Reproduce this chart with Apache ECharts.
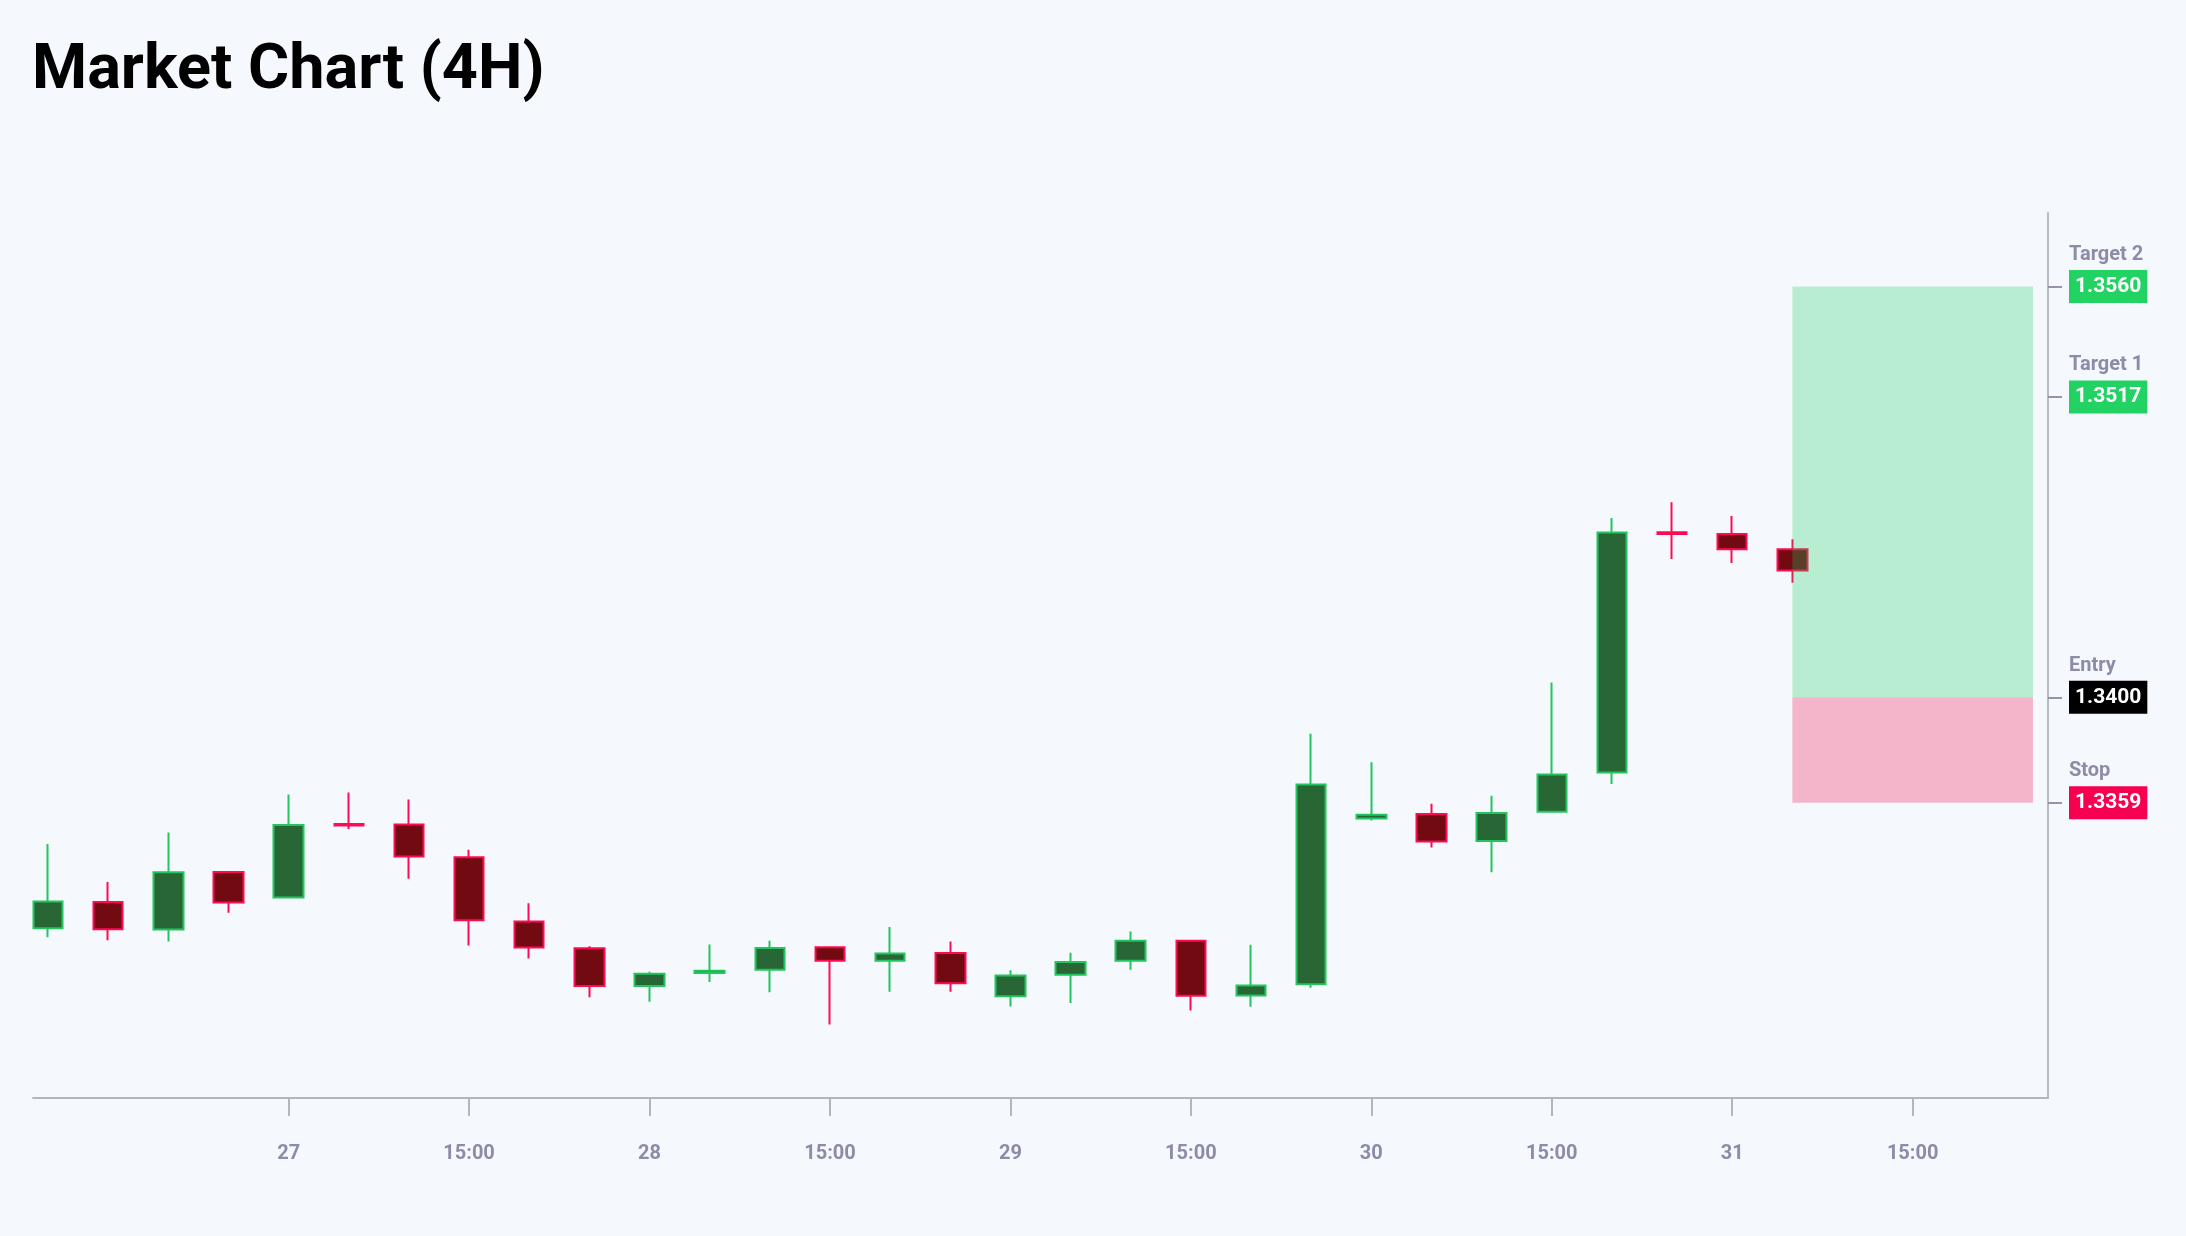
<!DOCTYPE html>
<html>
<head>
    <meta charset="utf-8">
    <title>Market Chart (4H)</title>
    <script src="https://cdn.jsdelivr.net/npm/echarts@6/dist/echarts.min.js"></script>
</head>

<style>
    html, body
    {
        margin: 0;
        padding: 0;
        background-color: #f5f8fd;
    }

    #main
    {
        width: 2186px;
        height: 1236px;
    }
</style>

<body>

    <div id="main"></div>

    <script type="text/javascript">

        // 4H candles, one slot per bar (x = slot index)
        var opens  = [1.33101, 1.33203, 1.33096, 1.33320, 1.33221, 1.33507, 1.33505, 1.33377, 1.33127, 1.33023,
                      1.32876, 1.32927, 1.32939, 1.33027, 1.32974, 1.33005, 1.32836, 1.32920, 1.32974, 1.33052,
                      1.32839, 1.32883, 1.33528, 1.33546, 1.33441, 1.33555, 1.33707, 1.34643, 1.34636, 1.34577];
        var closes = [1.33205, 1.33097, 1.33319, 1.33201, 1.33503, 1.33501, 1.33380, 1.33132, 1.33026, 1.32876,
                      1.32924, 1.32935, 1.33024, 1.32974, 1.33003, 1.32887, 1.32917, 1.32970, 1.33052, 1.32838,
                      1.32878, 1.33661, 1.33543, 1.33439, 1.33550, 1.33700, 1.34642, 1.34636, 1.34577, 1.34494];
        var lows   = [1.33066, 1.33054, 1.33049, 1.33161, 1.33217, 1.33487, 1.33294, 1.33034, 1.32983, 1.32832,
                      1.32815, 1.32892, 1.32852, 1.32726, 1.32854, 1.32854, 1.32796, 1.32810, 1.32939, 1.32781,
                      1.32795, 1.32869, 1.33521, 1.33415, 1.33319, 1.33555, 1.33663, 1.34539, 1.34523, 1.34446];
        var highs  = [1.33429, 1.33281, 1.33474, 1.33324, 1.33622, 1.33630, 1.33602, 1.33407, 1.33198, 1.33031,
                      1.32932, 1.33038, 1.33052, 1.33031, 1.33106, 1.33049, 1.32937, 1.33006, 1.33088, 1.33055,
                      1.33037, 1.33858, 1.33747, 1.33586, 1.33617, 1.34058, 1.34698, 1.34760, 1.34706, 1.34616];

        // x axis ticks (slot index) and their labels
        var tickAt   = [4, 7, 10, 13, 16, 19, 22, 25, 28, 31];
        var tickText = ['27', '15:00', '28', '15:00', '29', '15:00', '30', '15:00', '31', '15:00'];

        // trade levels on the price axis
        var levelValues = [1.3560, 1.3517, 1.3400, 1.3359];
        var levelNames  = ['Target 2', 'Target 1', 'Entry', 'Stop'];
        var levelKinds  = ['tp', 'tp', 'entry', 'stop'];

        // projection zone runs from the last bar to slot 33
        var zoneStart = 29;
        var zoneEnd = 33;

        var candles = [];
        for (var i = 0; i < opens.length; i++) {
            candles.push([i, opens[i], closes[i], lows[i], highs[i]]);
        }

        function boxStyle(bg) {
            return {
                fontFamily: 'Roboto',
                fontSize: 21,
                fontWeight: 'bold',
                color: '#ffffff',
                backgroundColor: bg,
                lineHeight: 21,
                padding: [6, 6, 6, 6],
                align: 'left'
            };
        }

        var myChart = echarts.init(document.getElementById('main'));

        var option = {
            backgroundColor: '#f5f8fd',
            animation: false,
            title: {
                text: 'Market Chart (4H)',
                left: 27,
                top: 36,
                textStyle: {
                    fontFamily: 'Roboto',
                    fontSize: 63,
                    fontWeight: 'bold',
                    color: '#000000'
                }
            },
            grid: {
                left: 33,
                right: 138,
                top: 213,
                bottom: 138,
                outerBoundsMode: 'none'
            },
            xAxis: {
                type: 'value',
                min: -0.25,
                max: 33.25,
                splitLine: { show: false },
                axisLine: {
                    show: true,
                    onZero: false,
                    lineStyle: { color: '#b4b5bf', width: 2 }
                },
                axisTick: {
                    show: true,
                    customValues: tickAt,
                    length: 18,
                    lineStyle: { color: '#b4b5bf', width: 2 }
                },
                axisLabel: {
                    customValues: tickAt,
                    margin: 46,
                    fontFamily: 'Roboto',
                    fontSize: 20,
                    fontWeight: 'bold',
                    color: '#8b8ca7',
                    formatter: function (v) {
                        var k = tickAt.indexOf(Math.round(v));
                        return k >= 0 ? tickText[k] : '';
                    }
                }
            },
            yAxis: {
                type: 'value',
                position: 'right',
                min: 1.32440,
                max: 1.35886,
                splitLine: { show: false },
                axisLine: {
                    show: true,
                    onZero: false,
                    lineStyle: { color: '#b9bac4', width: 2 }
                },
                axisTick: {
                    show: true,
                    customValues: levelValues,
                    length: 14,
                    lineStyle: { color: '#9293ad', width: 2 }
                },
                axisLabel: {
                    customValues: levelValues,
                    margin: 21,
                    align: 'left',
                    formatter: function (v) {
                        for (var j = 0; j < levelValues.length; j++) {
                            if (Math.abs(v - levelValues[j]) < 1e-6) {
                                return '{name|' + levelNames[j] + '}\n{' + levelKinds[j] + '|' + levelValues[j].toFixed(4) + '}\n{gap| }';
                            }
                        }
                        return '';
                    },
                    rich: {
                        name: {
                            fontFamily: 'Roboto',
                            fontSize: 20,
                            fontWeight: 'bold',
                            color: '#8b8ca7',
                            lineHeight: 42,
                            align: 'left'
                        },
                        gap: {
                            fontSize: 20,
                            lineHeight: 42
                        },
                        tp: boxStyle('#22d364'),
                        entry: boxStyle('#000000'),
                        stop: boxStyle('#f70050')
                    }
                }
            },
            series: [
                {
                    name: 'Price',
                    type: 'candlestick',
                    data: candles,
                    encode: { x: 0, y: [1, 2, 3, 4] },
                    barWidth: 30,
                    itemStyle: {
                        color: '#296636',
                        color0: '#720a12',
                        borderColor: '#22c55e',
                        borderColor0: '#ff0a54',
                        borderWidth: 2
                    },
                    markArea: {
                        silent: true,
                        z: 5,
                        data: [
                            [
                                { xAxis: zoneStart, yAxis: levelValues[0], itemStyle: { color: 'rgba(22, 208, 95, 0.27)' } },
                                { xAxis: zoneEnd, yAxis: levelValues[2] }
                            ],
                            [
                                { xAxis: zoneStart, yAxis: levelValues[2], itemStyle: { color: 'rgba(245, 0, 68, 0.27)' } },
                                { xAxis: zoneEnd, yAxis: levelValues[3] }
                            ]
                        ]
                    }
                }
            ]
        };

        myChart.setOption(option);
    </script>

</body>
</html>
